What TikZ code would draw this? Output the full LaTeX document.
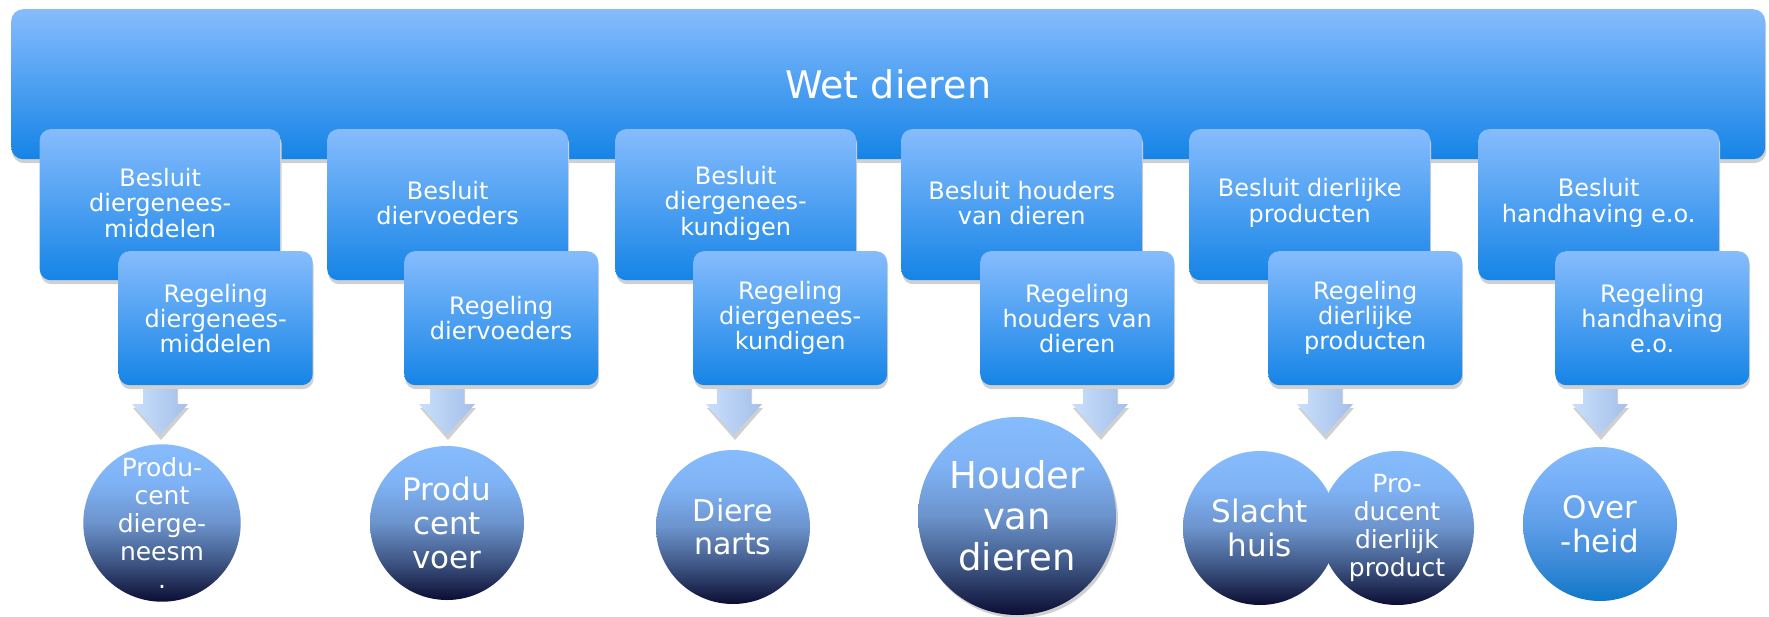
\documentclass[tikz,border=0pt]{standalone}
\usepackage{fontspec}
\setmainfont{DejaVu Sans}
\usetikzlibrary{calc,shadows}
\definecolor{boxtop}{HTML}{86BCFD}
\definecolor{boxbot}{HTML}{1584E6}
\definecolor{shgrey}{HTML}{D0D0D0}
\definecolor{arrl}{HTML}{C9DFFB}
\definecolor{arrr}{HTML}{A3BFEA}
\definecolor{circtop}{HTML}{86BCFD}
\definecolor{circq}{HTML}{7EB2F4}
\definecolor{circmid}{HTML}{6C93CC}
\definecolor{circtq}{HTML}{3E5684}
\definecolor{circbot}{HTML}{0B0D33}
\definecolor{circqb}{HTML}{74AEF6}
\definecolor{circmidb}{HTML}{5E9EE8}
\definecolor{circtqb}{HTML}{3C8AD8}
\definecolor{circbotb}{HTML}{0F78C8}
\pgfdeclareverticalshading{circshade}{100bp}{color(0bp)=(circbot); color(25bp)=(circbot);
  color(37.5bp)=(circtq); color(50bp)=(circmid); color(62.5bp)=(circq); color(75bp)=(circtop); color(100bp)=(circtop)}
\pgfdeclareverticalshading{circshadeb}{100bp}{color(0bp)=(circbotb); color(25bp)=(circbotb);
  color(37.5bp)=(circtqb); color(50bp)=(circmidb); color(62.5bp)=(circqb); color(75bp)=(circtop); color(100bp)=(circtop)}
\begin{document}
\begin{tikzpicture}[x=1pt,y=-1pt,
  boxshade/.style={rounded corners=11pt, inner sep=0pt, top color=boxtop, bottom color=boxbot,
    general shadow={shadow xshift=1pt, shadow yshift=-4pt, fill=shgrey}},
  besluitbox/.style={boxshade, anchor=north west, minimum width=241pt, minimum height=151pt},
  regelbox/.style={boxshade, anchor=north west, minimum width=194pt, minimum height=134pt,
    text=white, align=center, font=\fontsize{24}{25}\selectfont},
  boxtext/.style={text=white, align=center, inner sep=0pt, font=\fontsize{24}{25.4}\selectfont},
  circ/.style={circle, inner sep=0pt, minimum size=154pt, shading=circshade,
    text=white, align=center},
  arrshape/.style={left color=arrl, right color=arrr},
]
\useasboundingbox (0,0) rectangle (1769,616);

% banner
\node[boxshade, rounded corners=12pt, anchor=north west, minimum width=1754pt, minimum height=150pt] (banner) at (11,9) {};
\node[text=white, inner sep=0pt, font=\fontsize{38}{44}\selectfont] (title) at (banner.center) {Wet dieren};

% arrows
\foreach \i/\ax in {1/160,2/447,3/734,4/1100,5/1325,6/1600}{
  \coordinate (a\i) at (\ax,385);
  \fill[shgrey] ($(a\i)+(-16,4)$) -- ++(34,0) -- ++(0,19) -- ++(11,0) -- ++(-28,32) -- ++(-28,-32) -- ++(11,0) -- cycle;
  \shade[arrshape] ($(a\i)+(-17,0)$) -- ++(34,0) -- ++(0,19) -- ++(11,0) -- ++(-28,31) -- ++(-28,-31) -- ++(11,0) -- cycle;
}

% boxes
\foreach \i/\bx/\rx/\bt/\rt in {
  1/39.5/118.5/{Besluit\\diergenees-\\middelen}/{Regeling\\diergenees-\\middelen},
  2/327/404/{Besluit\\diervoeders}/{Regeling\\diervoeders},
  3/615/693/{Besluit\\diergenees-\\kundigen}/{Regeling\\diergenees-\\kundigen},
  4/901/980/{Besluit houders\\van dieren}/{Regeling\\houders van\\dieren},
  5/1189/1268/{Besluit dierlijke\\producten}/{Regeling\\dierlijke\\producten},
  6/1478/1555/{Besluit\\handhaving e.o.}/{Regeling\\handhaving\\e.o.}}{
  \node[besluitbox] (b\i) at (\bx,129) {};
  \node[boxtext] (bt\i) at ($(b\i.north)+(0,74)$) {\bt};
  \node[regelbox] (r\i) at (\rx,251) {\rt};
}

% circles
\node[circ, font=\fontsize{25}{28}\selectfont] (c1) at (162,523) {Produ-\\cent\\dierge-\\neesm\\.};
\node[circ, font=\fontsize{31}{34}\selectfont] (c2) at (447,523) {Produ\\cent\\voer};
\node[circ, font=\fontsize{30}{33}\selectfont] (c3) at (733,527) {Diere\\narts};
\node[circ, minimum size=198pt, font=\fontsize{37}{41}\selectfont,
  general shadow={shadow xshift=2pt, shadow yshift=-3pt, fill=shgrey}] (c4) at (1017,516) {Houder\\van\\dieren};
\node[circ, font=\fontsize{31}{34}\selectfont] (c5a) at (1260,528) {Slacht\\huis};
\node[circ, font=\fontsize{25}{28}\selectfont] (c5b) at (1397,528) {Pro-\\ducent\\dierlijk\\product};
\node[circ, shading=circshadeb, font=\fontsize{31}{34}\selectfont] (c6) at (1600,524) {Over\\-heid};
\end{tikzpicture}
\end{document}
